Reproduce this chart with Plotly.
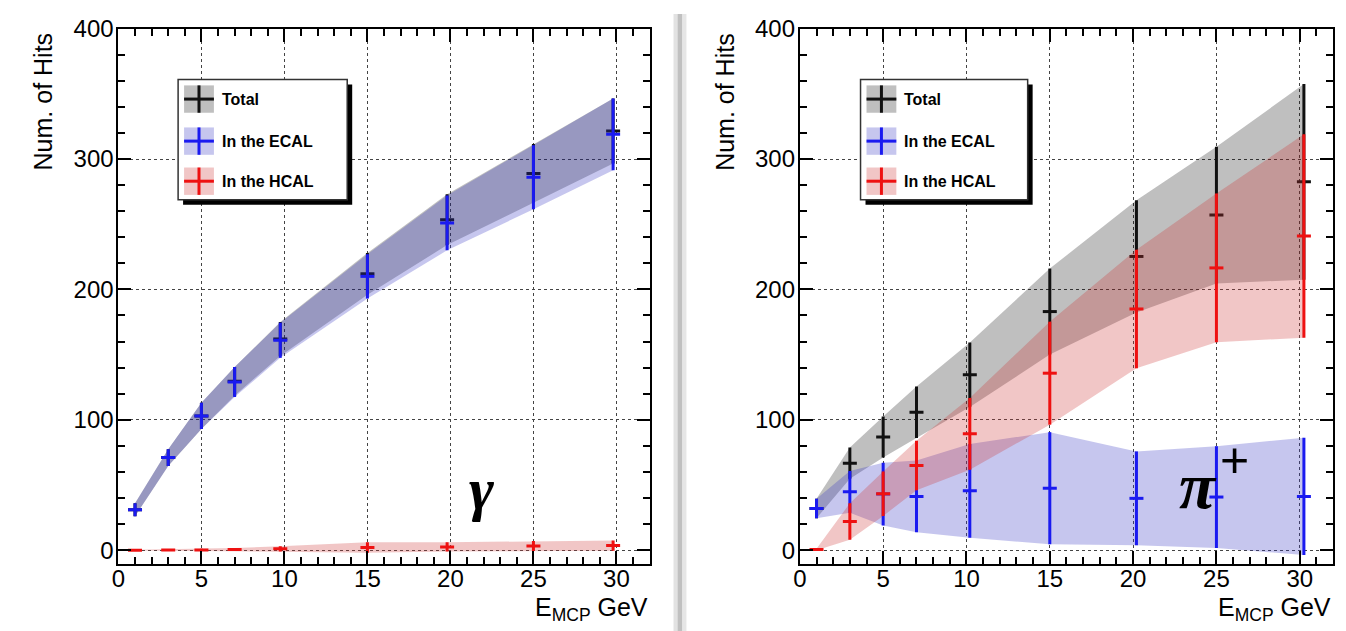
import plotly.graph_objects as go

# ---- photon sample (gamma) ----
x_gamma = [1, 3, 5, 7, 9.75, 15, 19.8, 25, 29.8]
total_gamma = [31, 71, 103, 129.5, 162, 212, 253.5, 289, 321.5]
total_gamma_err = [5, 6.5, 10, 11, 13, 16, 19.5, 22.5, 25]
ecal_gamma = [31, 71, 103, 129, 161, 210, 251, 286, 319]
ecal_gamma_err = [5, 6.5, 10, 11.5, 13.5, 17, 21, 24.5, 27.5]
hcal_gamma = [0, 0.1, 0.2, 0.5, 1.0, 2.0, 2.5, 3.2, 3.5]
hcal_gamma_err = [0.3, 0.5, 0.8, 1.2, 2.0, 4.0, 3.5, 3.8, 4.0]

# ---- charged pion sample (pi+) ----
x_pion = [1, 3, 5, 7, 10.2, 15, 20.2, 25, 30.25]
total_pion = [32, 66.75, 86.75, 105.75, 134.5, 183, 225.3, 257, 282.5]
total_pion_err = [7.5, 12, 15.75, 19.75, 24.75, 33, 43, 52.5, 75]
ecal_pion = [32, 44.75, 43, 41.25, 45.5, 47.5, 39.75, 40.75, 41.25]
ecal_pion_err = [7.5, 16, 24, 27.5, 36, 43, 36, 39, 45]
hcal_pion = [0.5, 22, 43.25, 65, 89.25, 135.75, 185, 216.5, 241]
hcal_pion_err = [0.5, 14, 17, 19, 27.5, 39.5, 45.5, 57, 78]

series_names = ["Total", "In the ECAL", "In the HCAL"]
x_ticks = [0, 5, 10, 15, 20, 25, 30]
y_ticks = [0, 100, 200, 300, 400]

W, H = 1346, 631
LINE = {"Total": "#111111", "In the ECAL": "#1a1af0", "In the HCAL": "#ee1111"}
FILL = {"Total": "rgba(0,0,0,0.25)", "In the ECAL": "rgba(50,50,195,0.28)",
        "In the HCAL": "rgba(205,50,50,0.28)"}
SANS = "Liberation Sans, Arial, Helvetica, sans-serif"
SERIF = "Liberation Serif, Times New Roman, serif"


def px(x):
    return x / W


def py(y):
    return 1 - y / H


def add_series(fig, x, y, err, name, xa, ya):
    upper = [a + b for a, b in zip(y, err)]
    lower = [a - b for a, b in zip(y, err)]
    fig.add_trace(go.Scatter(
        x=list(x) + list(x)[::-1], y=upper + lower[::-1],
        fill="toself", fillcolor=FILL[name], line=dict(width=0),
        mode="lines", hoverinfo="skip", showlegend=False, xaxis=xa, yaxis=ya))
    fig.add_trace(go.Scatter(
        x=x, y=y, mode="markers", name=name, showlegend=False,
        marker=dict(symbol="line-ew", size=10, color=LINE[name],
                    line=dict(width=3, color=LINE[name])),
        error_y=dict(type="data", array=err, color=LINE[name], thickness=3, width=0),
        xaxis=xa, yaxis=ya))


fig = go.Figure()
panels = [
    ("x", "y", x_gamma, [(total_gamma, total_gamma_err), (ecal_gamma, ecal_gamma_err),
                         (hcal_gamma, hcal_gamma_err)]),
    ("x2", "y2", x_pion, [(total_pion, total_pion_err), (ecal_pion, ecal_pion_err),
                          (hcal_pion, hcal_pion_err)]),
]
for xa, ya, xs, groups in panels:
    for name, (vals, errs) in zip(series_names, groups):
        add_series(fig, xs, vals, errs, name, xa, ya)

axis_common = dict(
    showline=True, linecolor="black", linewidth=2, mirror="ticks",
    ticks="inside", ticklen=13, tickwidth=1.5, tickcolor="black",
    showgrid=True, gridcolor="#444444", griddash="dot", gridwidth=1,
    zeroline=False, tickfont=dict(family=SANS, size=24, color="black"),
)
xaxis_style = dict(axis_common, range=[0, 32], tickvals=x_ticks, ticklabelstandoff=-7,
                   minor=dict(ticks="inside", ticklen=7, tickwidth=1.5,
                              tickcolor="black", dtick=1, tick0=0, showgrid=False))
yaxis_style = dict(axis_common, range=[-10.25, 400], tickvals=y_ticks, ticklabelstandoff=-2,
                   minor=dict(ticks="inside", ticklen=7, tickwidth=1.5,
                              tickcolor="black", dtick=20, tick0=0, showgrid=False))

plot_left = [(112, 646), (797, 1333)]
plot_top, plot_bottom = 15, 562

fig.update_layout(
    width=W, height=H, margin=dict(l=0, r=0, t=0, b=0),
    paper_bgcolor="white", plot_bgcolor="white", showlegend=False,
    xaxis=dict(xaxis_style, domain=[px(plot_left[0][0]), px(plot_left[0][1])], anchor="y"),
    yaxis=dict(yaxis_style, domain=[py(plot_bottom), py(plot_top)], anchor="x"),
    xaxis2=dict(xaxis_style, domain=[px(plot_left[1][0]), px(plot_left[1][1])], anchor="y2"),
    yaxis2=dict(yaxis_style, domain=[py(plot_bottom), py(plot_top)], anchor="x2"),
)

shapes = []
annotations = []

# separator between the two canvases
shapes.append(dict(type="rect", xref="paper", yref="paper", x0=px(670), x1=px(674),
                   y0=0, y1=1, fillcolor="#e2e2e2", line=dict(width=0), layer="below"))
shapes.append(dict(type="rect", xref="paper", yref="paper", x0=px(674), x1=px(679),
                   y0=0, y1=1, fillcolor="#c0c0c0", line=dict(width=0), layer="below"))
shapes.append(dict(type="rect", xref="paper", yref="paper", x0=px(679), x1=px(683),
                   y0=0, y1=1, fillcolor="#e6e6e6", line=dict(width=0), layer="below"))

# legends
for (ax_left, ax_right), box_x0, box_x1 in [((112, 646), 172, 342), ((797, 1333), 858, 1026)]:
    by0, by1 = 67, 190
    shapes.append(dict(type="rect", xref="paper", yref="paper",
                       x0=px(box_x0 + 5), x1=px(box_x1 + 5), y0=py(by1 + 5), y1=py(by0 + 5),
                       fillcolor="black", line=dict(width=0)))
    shapes.append(dict(type="rect", xref="paper", yref="paper",
                       x0=px(box_x0), x1=px(box_x1), y0=py(by1), y1=py(by0),
                       fillcolor="white", line=dict(color="#333333", width=1.5)))
    for name, cy in zip(series_names, [87, 130, 171]):
        sx0, sx1 = box_x0 + 6, box_x0 + 36
        shapes.append(dict(type="rect", xref="paper", yref="paper",
                           x0=px(sx0), x1=px(sx1), y0=py(cy + 14), y1=py(cy - 14),
                           fillcolor=FILL[name], line=dict(width=0)))
        shapes.append(dict(type="line", xref="paper", yref="paper",
                           x0=px(sx0), x1=px(sx1), y0=py(cy), y1=py(cy),
                           line=dict(color=LINE[name], width=3)))
        shapes.append(dict(type="line", xref="paper", yref="paper",
                           x0=px((sx0 + sx1) / 2), x1=px((sx0 + sx1) / 2),
                           y0=py(cy + 14), y1=py(cy - 14),
                           line=dict(color=LINE[name], width=3)))
        annotations.append(dict(xref="paper", yref="paper", x=px(sx1 + 6), y=py(cy),
                                xanchor="left", yanchor="middle", showarrow=False,
                                text="<b>%s</b>" % name,
                                font=dict(family=SANS, size=16, color="black")))
    # axis titles
    annotations.append(dict(xref="paper", yref="paper", x=px(ax_left - 76), y=py(17),
                            xanchor="center", yanchor="top", textangle=-90, showarrow=False,
                            text="Num. of Hits", font=dict(family=SANS, size=25, color="black")))
    annotations.append(dict(xref="paper", yref="paper", x=px(ax_right), y=py(590),
                            xanchor="right", yanchor="top", showarrow=False,
                            text="E<sub>MCP</sub> GeV", font=dict(family=SANS, size=25, color="black")))

# particle labels
annotations.append(dict(xref="paper", yref="paper", x=px(477), y=py(486),
                        xanchor="center", yanchor="middle", showarrow=False,
                        text="<b><i>γ</i></b>", font=dict(family=SERIF, size=60, color="black")))
annotations.append(dict(xref="paper", yref="paper", x=px(1197), y=py(482),
                        xanchor="center", yanchor="middle", showarrow=False,
                        text="<b><i>π</i></b>", font=dict(family=SERIF, size=66, color="black")))
annotations.append(dict(xref="paper", yref="paper", x=px(1234), y=py(456),
                        xanchor="center", yanchor="middle", showarrow=False,
                        text="+", font=dict(family=SANS, size=50, color="black")))

fig.update_layout(shapes=shapes, annotations=annotations)
fig.write_html("out.html")
